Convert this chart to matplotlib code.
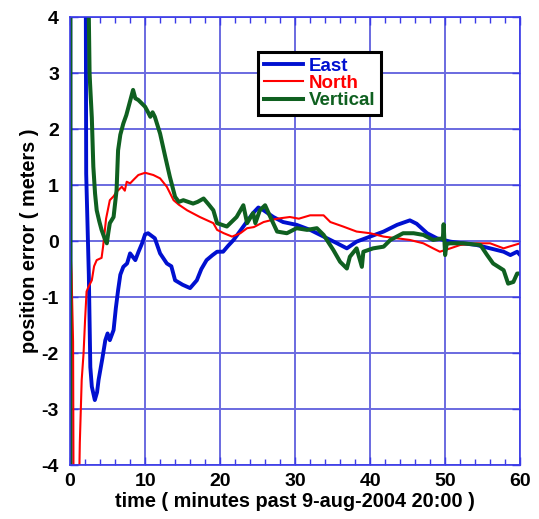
import numpy as np
import matplotlib
matplotlib.use("Agg")
import matplotlib.pyplot as plt
from matplotlib.ticker import MultipleLocator

plt.rcParams['font.family'] = ['Liberation Sans', 'DejaVu Sans']
plt.rcParams['font.weight'] = 'bold'
plt.rcParams['axes.unicode_minus'] = False

nan = np.nan

# East error (meters) vs minutes
east_t = [0, 0.1, nan, 2.0, 2.15, 2.5, 2.7, 2.9, 3.3, 3.6, 3.8, 4.3, 4.7, 5.0, 5.3, 5.8,
          6.1, 6.4, 6.7, 7.1, 7.6, 8.0, 8.7, 9.1, 9.6, 10.0, 10.4, 11.3, 12.0, 12.9,
          13.5, 14.0, 15.0, 16.0, 16.9, 17.5, 18.2, 19.0, 19.6, 20.4, 21.1, 21.8,
          23.1, 24.4, 25.1, 25.8, 27.1, 28.4, 30.2, 32.0, 33.8, 35.6, 36.9, 38.2,
          40.0, 41.8, 43.6, 45.3, 46.2, 47.6, 48.9, 50.7, 52.4, 54.2, 56.0, 57.8,
          58.7, 59.6, 60.0]
east_y = [10, -10, nan, 10, 1.2, -0.6, -2.25, -2.6, -2.84, -2.7, -2.48, -2.1, -1.77,
          -1.65, -1.77, -1.59, -1.2, -0.88, -0.6, -0.46, -0.4, -0.22, -0.34, -0.2,
          -0.04, 0.12, 0.14, 0.05, -0.22, -0.4, -0.45, -0.7, -0.78, -0.84, -0.7, -0.5,
          -0.34, -0.25, -0.19, -0.19, -0.08, 0.02, 0.26, 0.5, 0.6, 0.55, 0.43, 0.34,
          0.29, 0.2, 0.08, -0.04, -0.13, -0.01, 0.08, 0.17, 0.29, 0.37, 0.31, 0.14,
          0.05, -0.01, -0.04, -0.07, -0.13, -0.19, -0.25, -0.19, -0.25]

# North error
north_t = [0, 0.2, 0.4, 0.5, 1.0, 1.3, 1.55, 1.8, 2.0, 2.2, 2.45, 2.9, 3.2, 3.55, 4.2,
           4.4, 4.8, 5.3, 5.8, 6.2, 6.9, 7.3, 7.55, 8.0, 8.5, 9.1, 10.0, 11.1, 12.0,
           12.9, 13.8, 14.5, 15.6, 17.3, 19.1, 19.6, 20.5, 21.6, 22.7, 23.6, 24.5,
           25.8, 27.6, 29.3, 30.5, 32.0, 33.8, 34.7, 36.4, 38.2, 40.0, 41.8, 43.6,
           45.3, 47.1, 48.4, 49.3, 50.7, 52.0, 54.2, 56.0, 57.8, 58.5, 60.0]
north_y = [0.0, -0.6, -1.8, -6, -6, -3.6, -2.48, -2.0, -1.41, -0.9, -0.82, -0.7, -0.45,
           -0.34, -0.3, -0.1, 0.4, 0.73, 0.8, 0.88, 0.97, 0.9, 1.06, 1.03, 1.1, 1.18,
           1.22, 1.18, 1.12, 0.97, 0.73, 0.65, 0.55, 0.43, 0.32, 0.2, 0.14, 0.08,
           0.14, 0.23, 0.25, 0.34, 0.4, 0.43, 0.4, 0.46, 0.46, 0.34, 0.26, 0.17, 0.14,
           0.08, 0.05, 0.02, -0.04, -0.13, -0.19, -0.13, -0.07, -0.04, -0.04, -0.13,
           -0.1, -0.04]

# Vertical error
vert_t = [0, 0.05, 2.4, 2.45, 2.6, 2.67, 2.9, 3.1, 3.33, 3.55, 3.9, 4.2, 4.6, 4.9, 5.1,
          5.3, 5.8, 6.2, 6.4, 6.7, 7.1, 7.5, 7.8, 8.4, 8.7, 9.1, 10.0, 10.4, 10.7,
          11.0, 11.3, 12.0, 12.7, 13.3, 14.0, 14.5, 15.1, 16.4, 17.0, 17.8, 18.5,
          19.1, 19.6, 20.9, 22.2, 23.1, 23.6, 24.4, 24.7, 25.3, 26.0, 26.7, 27.6,
          28.9, 30.2, 31.6, 32.9, 33.8, 35.1, 36.0, 36.9, 37.3, 38.2, 38.9, 39.1,
          40.4, 41.8, 42.7, 44.4, 45.8, 47.1, 48.4, 49.7, 49.8, 50.0, 50.2, 50.7,
          52.4, 54.7, 55.6, 56.4, 57.8, 58.4, 59.1, 59.6, 60.0]
vert_y = [-10, 10, 10, 4.5, 3.0, 2.8, 2.2, 1.33, 0.85, 0.55, 0.35, 0.2, 0.05, -0.04,
          0.15, 0.32, 0.43, 0.91, 1.62, 1.9, 2.1, 2.25, 2.4, 2.7, 2.55, 2.52, 2.4,
          2.3, 2.22, 2.3, 2.22, 1.92, 1.5, 1.15, 0.79, 0.7, 0.73, 0.67, 0.7, 0.76,
          0.65, 0.55, 0.32, 0.26, 0.43, 0.64, 0.32, 0.5, 0.32, 0.55, 0.64, 0.43, 0.17,
          0.14, 0.23, 0.2, 0.23, 0.11, -0.16, -0.37, -0.49, -0.28, -0.13, -0.46, -0.19,
          -0.13, -0.1, 0.02, 0.14, 0.14, 0.11, 0.02, 0.05, 0.3, -0.25, -0.05, -0.04,
          -0.04, -0.07, -0.25, -0.4, -0.52, -0.76, -0.73, -0.58, -0.58]

fig = plt.figure(figsize=(5.39, 5.19), dpi=100)
ax = fig.add_axes([0.13, 0.104, 0.835, 0.863])

ax.plot(east_t, east_y, color='#0010d0', lw=2.8, label='East')
ax.plot(north_t, north_y, color='#ff0000', lw=1.5, label='North')
ax.plot(vert_t, vert_y, color='#0f6020', lw=2.9, label='Vertical')

ax.set_xlim(0, 60)
ax.set_ylim(-4, 4)
ax.xaxis.set_major_locator(MultipleLocator(10))
ax.xaxis.set_minor_locator(MultipleLocator(2))
ax.yaxis.set_major_locator(MultipleLocator(1))

ax.grid(True, which='major', color='#6a6ae0', lw=1.4)
for s in ax.spines.values():
    s.set_color('#3a3ae8')
    s.set_linewidth(1.2)
ax.tick_params(which='both', direction='in', top=True, right=True, color='#3a3ae8',
               labelsize=14)
ax.tick_params(which='major', length=6, width=1)
ax.tick_params(which='minor', length=4, width=1)
ax.tick_params(axis='y', pad=8)
ax.tick_params(axis='x', pad=6)

ax.set_xlabel('time ( minutes past 9-aug-2004 20:00 )', fontsize=14.3,
              fontweight='bold', labelpad=1)
ax.set_ylabel('position error ( meters )', fontsize=14.3, fontweight='bold',
              labelpad=2)

leg = ax.legend(loc='upper left', bbox_to_anchor=(0.418, 0.922), borderaxespad=0,
                fancybox=False, framealpha=1, edgecolor='black', labelcolor='linecolor',
                prop={'size': 13.5, 'weight': 'bold'}, handlelength=2.1,
                handletextpad=0.3, labelspacing=0.0, borderpad=0.3)
leg.get_frame().set_linewidth(2.2)

fig.savefig('out.png', dpi=100)
